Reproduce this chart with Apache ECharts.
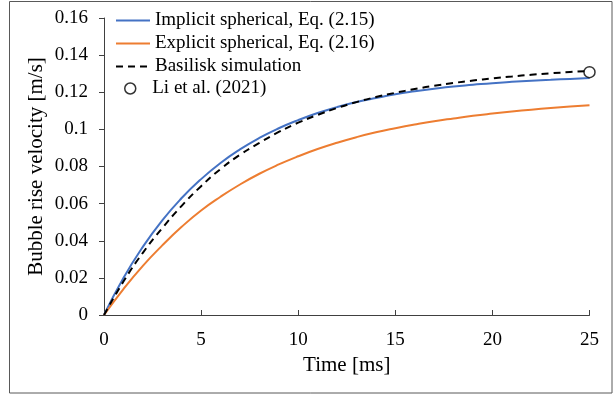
<!DOCTYPE html>
<html>
<head>
<meta charset="utf-8">
<script src="https://cdn.jsdelivr.net/npm/echarts@6/dist/echarts.min.js"></script>
<style>
  html, body { margin: 0; padding: 0; background: #fff; }
  #chart { width: 616px; height: 396px; }
</style>
</head>
<body>
<div id="chart"></div>
<script>
// Time samples [ms]
const timeMs = [0, 1, 2, 3, 4, 5, 6, 7, 8, 9, 10, 11, 12, 13, 14, 15, 16, 17, 18, 19, 20, 21, 22, 23, 24, 25];

// Rise velocity [m/s], implicit spherical model, Eq. (2.15)
const implicitVel = [0, 0.0199, 0.0367, 0.0510, 0.0630, 0.0732, 0.0819, 0.0892, 0.0954, 0.1006, 0.1050,
  0.1088, 0.1120, 0.1147, 0.1169, 0.1189, 0.1205, 0.1219, 0.1231, 0.1240, 0.1249,
  0.1256, 0.1262, 0.1267, 0.1272, 0.1277];

// Rise velocity [m/s], explicit spherical model, Eq. (2.16)
const explicitVel = [0, 0.0140, 0.0265, 0.0375, 0.0475, 0.0563, 0.0637, 0.0703, 0.0761, 0.0811, 0.0855,
  0.0894, 0.0928, 0.0958, 0.0984, 0.1006, 0.1026, 0.1044, 0.1059, 0.1073, 0.1085,
  0.1096, 0.1106, 0.1115, 0.1123, 0.1130];

// Rise velocity [m/s], Basilisk simulation
const basiliskVel = [0, 0.0180, 0.0335, 0.0468, 0.0588, 0.0694, 0.0786, 0.0863, 0.0927, 0.0986, 0.1036,
  0.1078, 0.1115, 0.1147, 0.1174, 0.1197, 0.1217, 0.1235, 0.1250, 0.1263, 0.1275,
  0.1285, 0.1294, 0.1302, 0.1309, 0.1315];

// Reference point, Li et al. (2021)
const liTime = [25];
const liVel = [0.1308];

const seriesNames = ['Implicit spherical, Eq. (2.15)', 'Explicit spherical, Eq. (2.16)', 'Basilisk simulation', 'Li et al. (2021)'];

const FONT = '"Liberation Serif", "Times New Roman", serif';
const pairs = (xs, ys) => xs.map((x, i) => [x, ys[i]]);

const chart = echarts.init(document.getElementById('chart'), null, { renderer: 'canvas' });

chart.setOption({
  animation: false,
  backgroundColor: '#ffffff',
  textStyle: { fontFamily: FONT, color: '#000' },
  grid: { left: 104, right: 26.5, top: 18, bottom: 81, containLabel: false },
  graphic: [{
    type: 'rect',
    shape: { x: 9.5, y: 1.5, width: 602.5, height: 391.5 },
    style: { fill: 'none', stroke: '#595959', lineWidth: 1 },
    silent: true
  }],
  legend: [{
    // line entries: plain line samples, no marker
    data: seriesNames.slice(0, 3),
    orient: 'vertical',
    left: 115,
    top: 11,
    itemWidth: 34,
    itemHeight: 14,
    itemGap: 4,
    itemStyle: { opacity: 0 },
    textStyle: { fontFamily: FONT, fontSize: 19, color: '#000' },
    padding: 0,
    selectedMode: false
  }, {
    // open-circle entry
    data: [{ name: seriesNames[3], icon: 'circle' }],
    orient: 'vertical',
    left: 124,
    top: 79,
    itemWidth: 34,
    itemHeight: 11,
    itemStyle: { color: '#ffffff', borderColor: '#000000', borderWidth: 1.5 },
    textStyle: { fontFamily: FONT, fontSize: 19, color: '#000' },
    padding: 0,
    selectedMode: false
  }],
  xAxis: {
    type: 'value',
    min: 0, max: 25, interval: 5,
    name: 'Time [ms]',
    nameLocation: 'middle',
    nameGap: 40,
    nameMoveOverlap: false,
    nameTextStyle: { fontFamily: FONT, fontSize: 21, color: '#000' },
    axisLine: { show: true, onZero: false, lineStyle: { color: '#404040', width: 1 } },
    axisTick: { show: true, inside: true, length: 5, lineStyle: { color: '#404040' } },
    axisLabel: { fontFamily: FONT, fontSize: 19, color: '#000', margin: 16 },
    splitLine: { show: false }
  },
  yAxis: {
    type: 'value',
    min: 0, max: 0.16, interval: 0.02,
    name: 'Bubble rise velocity [m/s]',
    nameLocation: 'middle',
    nameRotate: 90,
    nameGap: 57,
    nameMoveOverlap: false,
    nameTextStyle: { fontFamily: FONT, fontSize: 21, color: '#000' },
    axisLine: { show: true, lineStyle: { color: '#404040', width: 1 } },
    axisTick: { show: true, inside: false, length: 5, lineStyle: { color: '#404040' } },
    axisLabel: { fontFamily: FONT, fontSize: 19, color: '#000', margin: 16 },
    splitLine: { show: false }
  },
  series: [{
    name: seriesNames[0],
    type: 'line',
    data: pairs(timeMs, implicitVel),
    smooth: true,
    symbol: 'none',
    lineStyle: { color: '#4472C4', width: 2 },
    itemStyle: { color: '#4472C4' },
    z: 2
  }, {
    name: seriesNames[1],
    type: 'line',
    data: pairs(timeMs, explicitVel),
    smooth: true,
    symbol: 'none',
    lineStyle: { color: '#ED7D31', width: 2 },
    itemStyle: { color: '#ED7D31' },
    z: 2
  }, {
    name: seriesNames[2],
    type: 'line',
    data: pairs(timeMs, basiliskVel),
    smooth: true,
    symbol: 'none',
    lineStyle: { color: '#000000', width: 2, type: [7, 5] },
    itemStyle: { color: '#000000' },
    z: 3
  }, {
    name: seriesNames[3],
    type: 'scatter',
    data: pairs(liTime, liVel),
    symbol: 'circle',
    symbolSize: 11,
    itemStyle: { color: '#ffffff', borderColor: '#000000', borderWidth: 1.5 },
    z: 4
  }]
});
</script>
</body>
</html>
